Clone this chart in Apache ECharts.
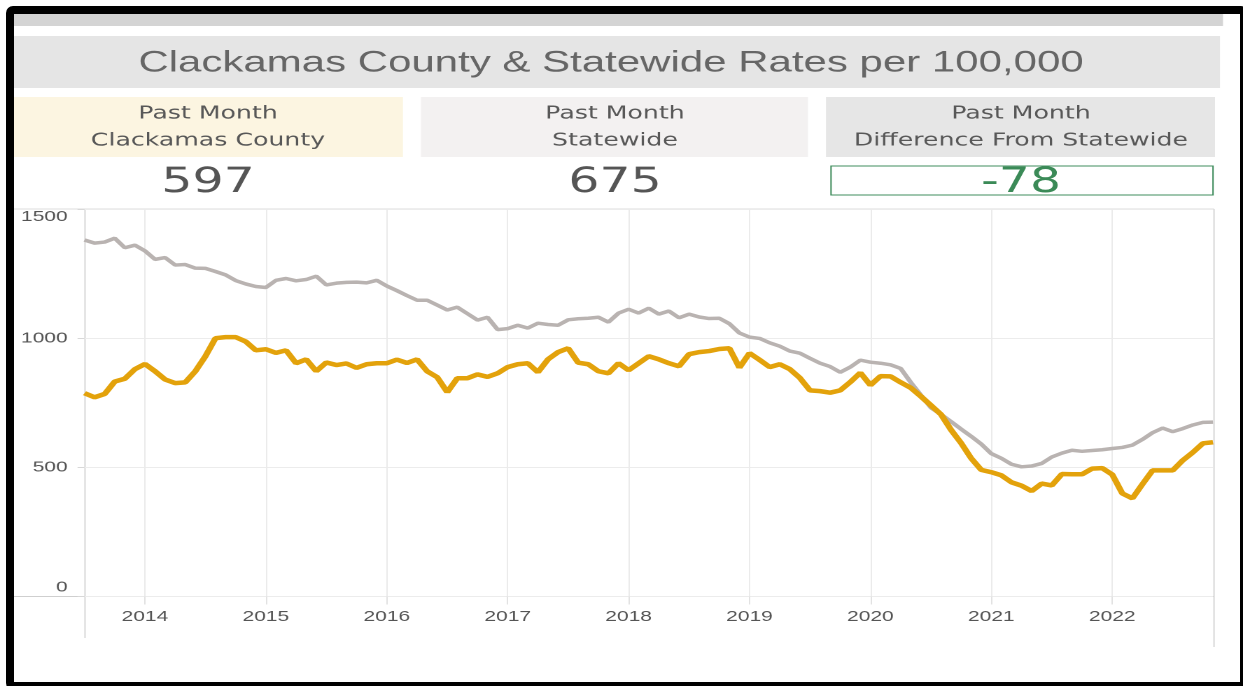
<!DOCTYPE html>
<html>
<head>
<meta charset="utf-8">
<title>Clackamas County &amp; Statewide Rates per 100,000</title>
<script src="https://cdn.jsdelivr.net/npm/echarts@6/dist/echarts.min.js"></script>
<style>
  html, body { margin: 0; padding: 0; background: #fff; overflow: hidden; width: 1243px; height: 686px; }
  #chart { position: absolute; left: 0; top: 0; width: 888px; height: 686px; transform: scaleX(1.39977); transform-origin: 0 0; }
  #frame { position: absolute; left: 6px; top: 6px; width: 1242px; height: 684px; box-sizing: border-box;
           border: 8px solid #000; border-radius: 7px; pointer-events: none; }
</style>
</head>
<body>
<div id="chart"></div>
<div id="frame"></div>
<script>
// Monthly rates per 100,000, July 2013 through November 2022
const startYear = 2013, startMonth = 7, monthCount = 113;
const months = [];
for (let i = 0; i < monthCount; i++) {
  const m = startMonth - 1 + i;
  const y = startYear + Math.floor(m / 12);
  months.push(y + '-' + String((m % 12) + 1).padStart(2, '0'));
}

const statewide = [
  1380, 1368, 1372, 1387, 1350, 1360, 1338, 1305, 1312, 1283, 1285, 1271,
  1270, 1258, 1245, 1223, 1210, 1200, 1196, 1224, 1231, 1222, 1227, 1240,
  1206, 1213, 1216, 1217, 1214, 1224, 1202, 1184, 1165, 1147, 1147, 1128,
  1109, 1120, 1095, 1070, 1081, 1033, 1037, 1050, 1039, 1058, 1053, 1050,
  1071, 1075, 1077, 1081, 1062, 1097, 1112, 1097, 1116, 1093, 1105, 1079,
  1093, 1082, 1076, 1077, 1056, 1020, 1004, 999, 982, 969, 950, 942,
  922, 903, 890, 868, 888, 915, 907, 903, 897, 883, 829, 780,
  731, 705, 677, 648, 620, 590, 553, 535, 512, 502, 505, 515,
  540, 555, 566, 562, 565, 568, 573, 577, 586, 608, 634, 652,
  638, 650, 664, 674, 675
];

const county = [
  787, 771, 784, 832, 843, 880, 900, 872, 840, 826, 829, 872,
  930, 1000, 1004, 1004, 987, 953, 957, 943, 953, 903, 918, 872,
  906, 896, 902, 885, 899, 903, 903, 917, 904, 918, 872, 849,
  791, 845, 845, 860, 850, 864, 888, 899, 903, 868, 918, 946,
  961, 905, 899, 872, 864, 903, 876, 903, 930, 918, 903, 891,
  938, 946, 950, 958, 961, 886, 942, 916, 888, 899, 880, 846,
  798, 795, 789, 798, 830, 866, 818, 853, 852, 829, 808, 775,
  740, 705, 645, 594, 535, 490, 481, 469, 442, 429, 408, 437,
  430, 474, 473, 473, 495, 497, 472, 399, 380, 435, 488, 488,
  488, 527, 558, 593, 597
];

const yTicks = [0, 500, 1000, 1500];
const titleText = 'Clackamas County & Statewide Rates per 100,000';
const kpiHeaders = [
  ['Past Month', 'Clackamas County'],
  ['Past Month', 'Statewide'],
  ['Past Month', 'Difference From Statewide']
];

// Headline numbers come from the latest month of each series
const lastCounty = county[county.length - 1];
const lastState = statewide[statewide.length - 1];
const kpiValues = [String(lastCounty), String(lastState), String(lastCounty - lastState)];

// The canvas is drawn narrower and stretched horizontally; X() maps page pixels to canvas units
const W = 888, SX = 1243 / W;
const X = v => v / SX;
const FONT = '"Liberation Sans", Arial, sans-serif';
const KPI_FONT = '"DejaVu Sans", Verdana, sans-serif';

const plotTop = 209, zeroY = 596.5;
const plotLeft = X(84.5), plotRight = X(1213);

const kpiBoxes = [
  { x0: 14, x1: 403, fill: '#fcf5e1', cx: 208 },
  { x0: 421, x1: 808, fill: '#f3f1f1', cx: 615 },
  { x0: 826, x1: 1215, fill: '#e6e6e6', cx: 1021 }
];

const graphics = [
  { type: 'rect', shape: { x: X(14), y: 14, width: X(1223) - X(14), height: 12 }, style: { fill: '#d4d4d4' }, silent: true },
  { type: 'rect', shape: { x: X(14), y: 36, width: X(1220) - X(14), height: 52 }, style: { fill: '#e5e5e5' }, silent: true },
  { type: 'text', x: X(611), y: 63, style: { text: titleText, font: '30px ' + FONT, fill: '#666666', align: 'center', verticalAlign: 'middle' }, silent: true }
];

kpiBoxes.forEach((b, i) => {
  graphics.push({ type: 'rect', shape: { x: X(b.x0), y: 97, width: X(b.x1) - X(b.x0), height: 60 }, style: { fill: b.fill }, silent: true });
  graphics.push({ type: 'text', x: X(b.cx), y: 114, style: { text: kpiHeaders[i][0], font: '18px ' + KPI_FONT, fill: '#585858', align: 'center', verticalAlign: 'middle' }, silent: true });
  graphics.push({ type: 'text', x: X(b.cx), y: 141, style: { text: kpiHeaders[i][1], font: '18px ' + KPI_FONT, fill: '#585858', align: 'center', verticalAlign: 'middle' }, silent: true });
  graphics.push({ type: 'text', x: X(b.cx), y: 183, style: { text: kpiValues[i], font: '35px ' + KPI_FONT, fill: i === 2 ? '#3b8a57' : '#555555', align: 'center', verticalAlign: 'middle' }, silent: true });
});

graphics.push({ type: 'rect', shape: { x: X(831), y: 166, width: X(1213) - X(831), height: 29 }, style: { fill: 'none', stroke: '#3f8c5c', lineWidth: 1 }, silent: true });

// Plot frame: header rule, zero baseline and the two vertical borders
graphics.push({ type: 'line', shape: { x1: X(14), y1: plotTop, x2: X(1214), y2: plotTop }, style: { stroke: '#dcdcdc', lineWidth: 1 }, silent: true });
graphics.push({ type: 'line', shape: { x1: X(14), y1: zeroY, x2: X(1214), y2: zeroY }, style: { stroke: '#cfcfcf', lineWidth: 1 }, silent: true });
graphics.push({ type: 'line', shape: { x1: X(85), y1: plotTop, x2: X(85), y2: 638 }, style: { stroke: '#d6d6d6', lineWidth: 1 }, silent: true });
graphics.push({ type: 'line', shape: { x1: X(1214), y1: plotTop, x2: X(1214), y2: 647 }, style: { stroke: '#d6d6d6', lineWidth: 1 }, silent: true });

const isJanuary = (idx, val) => String(val).endsWith('-01');

const chart = echarts.init(document.getElementById('chart'), null, { devicePixelRatio: 2 });
chart.setOption({
  animation: false,
  backgroundColor: 'transparent',
  textStyle: { fontFamily: FONT },
  grid: { left: plotLeft, right: W - plotRight, top: plotTop, bottom: 686 - zeroY, containLabel: false },
  xAxis: {
    type: 'category',
    data: months,
    boundaryGap: false,
    axisLine: { show: false },
    axisTick: { show: true, interval: isJanuary, length: 8, lineStyle: { color: '#e2e2e2' } },
    splitLine: { show: true, interval: isJanuary, lineStyle: { color: '#ebebeb', width: 1 } },
    axisLabel: {
      interval: isJanuary,
      formatter: v => v.slice(0, 4),
      color: '#555555',
      fontSize: 15,
      fontFamily: FONT,
      margin: 13
    }
  },
  yAxis: {
    type: 'value',
    min: 0,
    max: 1500,
    interval: 500,
    axisLine: { show: false },
    axisTick: { show: true, length: 5, lineStyle: { color: '#d8d8d8' } },
    splitLine: { show: true, lineStyle: { color: '#ececec', width: 1 } },
    axisLabel: {
      margin: 12,
      color: '#555555',
      fontSize: 15,
      fontFamily: FONT,
      formatter: v => v === yTicks[yTicks.length - 1] ? '{top|' + v + '}' : v === yTicks[0] ? '{bot|' + v + '}' : '{mid|' + v + '}',
      rich: {
        top: { fontSize: 15, color: '#555555', fontFamily: FONT, padding: [16, 0, 0, 0] },
        bot: { fontSize: 15, color: '#555555', fontFamily: FONT, padding: [0, 0, 18, 0] },
        mid: { fontSize: 15, color: '#555555', fontFamily: FONT }
      }
    }
  },
  graphic: graphics,
  series: [
    {
      name: 'Statewide',
      type: 'line',
      data: statewide,
      symbol: 'none',
      smooth: false,
      lineStyle: { color: '#b9b3b1', width: 3.5 },
      z: 2
    },
    {
      name: 'Clackamas County',
      type: 'line',
      data: county,
      symbol: 'none',
      smooth: false,
      lineStyle: { color: '#e3a20b', width: 4.5 },
      z: 3
    }
  ]
});
</script>
</body>
</html>
